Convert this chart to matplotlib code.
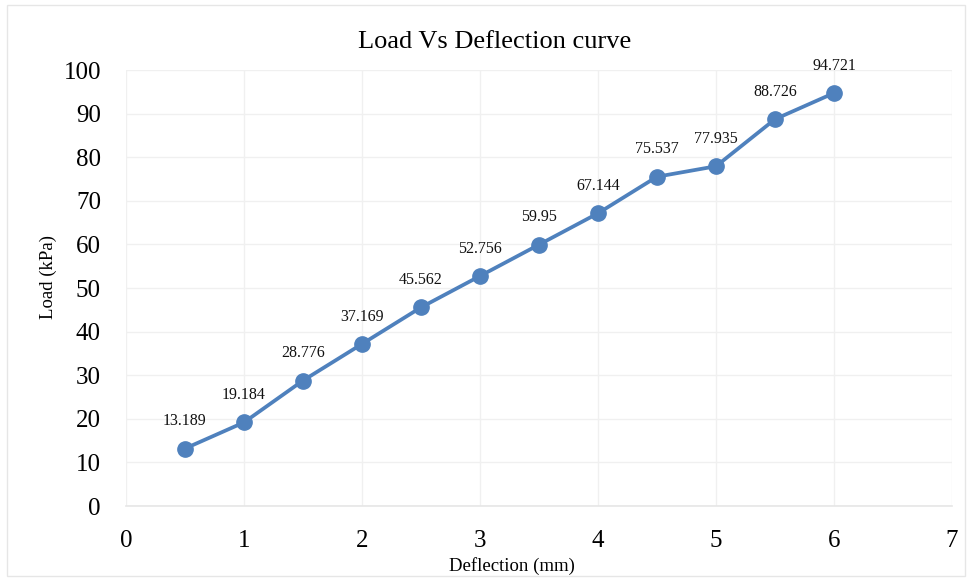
import matplotlib.pyplot as plt
from matplotlib.patches import Rectangle

deflection = [0.5, 1, 1.5, 2, 2.5, 3, 3.5, 4, 4.5, 5, 5.5, 6]
load = [13.189, 19.184, 28.776, 37.169, 45.562, 52.756, 59.95, 67.144, 75.537, 77.935, 88.726, 94.721]
labels = ["13.189", "19.184", "28.776", "37.169", "45.562", "52.756", "59.95",
          "67.144", "75.537", "77.935", "88.726", "94.721"]

plt.rcParams['font.family'] = ['Liberation Serif', 'DejaVu Serif']

fig = plt.figure(figsize=(9.72, 5.79), dpi=100)
ax = fig.add_axes([0.1296, 0.126, 0.8498, 0.753])

# light frame round the whole chart, like the Excel chart area
fig.patches.append(Rectangle((0.007, 0.006), 0.986, 0.985, transform=fig.transFigure,
                             fill=False, edgecolor='#e6e6e6', linewidth=1.0))

ax.plot(deflection, load, color='#4f81bd', linewidth=2.7, marker='o',
        markersize=11, zorder=3, clip_on=False)
for x, y, t in zip(deflection, load, labels):
    ax.annotate(t, (x, y), xytext=(0, 14), textcoords='offset points',
                ha='center', va='bottom', fontsize=11.5, color='#111111')

ax.set_xlim(0, 7)
ax.set_ylim(0, 100)
ax.set_xticks(range(0, 8))
ax.set_yticks(range(0, 101, 10))
ax.grid(True, color='#f0f0f0', linewidth=1.0)
ax.set_axisbelow(True)
for s in ['top', 'right', 'left']:
    ax.spines[s].set_visible(False)
ax.spines['bottom'].set_color('#e6e6e6')
ax.spines['bottom'].set_linewidth(1.2)
ax.tick_params(length=0, labelsize=18)
ax.tick_params(axis='x', pad=17)
ax.tick_params(axis='y', pad=18)

fig.text(0.509, 0.927, 'Load Vs Deflection curve', fontsize=19, ha='center', va='center')
ax.set_xlabel('Deflection (mm)', fontsize=13.5, labelpad=4, x=0.467)
ax.set_ylabel('Load (kPa)', fontsize=13.5, labelpad=5, y=0.525)

fig.savefig('out.png', dpi=100)
